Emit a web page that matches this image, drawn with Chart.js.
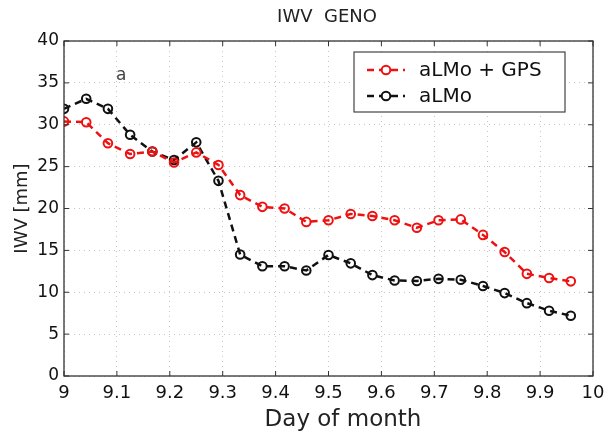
<!DOCTYPE html>
<html>
<head>
<meta charset="utf-8">
<script src="https://cdn.jsdelivr.net/npm/chart.js@4.4.1/dist/chart.umd.min.js"></script>
<style>
  html, body { margin: 0; padding: 0; background: #ffffff; }
  #wrap { width: 613px; height: 438px; }
</style>
</head>
<body>
<div id="wrap"><canvas id="c" width="613" height="438"></canvas></div>
<script>
// ---- data ----
const dayOfMonth = [9.000, 9.042, 9.083, 9.125, 9.167, 9.208, 9.250, 9.292,
                    9.333, 9.375, 9.417, 9.458, 9.500, 9.542, 9.583, 9.625,
                    9.667, 9.708, 9.750, 9.792, 9.833, 9.875, 9.917, 9.958];
const iwvGps  = [30.4, 30.3, 27.8, 26.5, 26.8, 25.5, 26.7, 25.2,
                 21.6, 20.2, 20.0, 18.4, 18.6, 19.35, 19.1, 18.6,
                 17.7, 18.6, 18.7, 16.85, 14.8, 12.2, 11.7, 11.3];
const iwvAlmo = [31.9, 33.1, 31.9, 28.8, 26.8, 25.8, 27.9, 23.3,
                 14.5, 13.1, 13.1, 12.6, 14.45, 13.45, 12.05, 11.4,
                 11.35, 11.6, 11.5, 10.75, 9.9, 8.7, 7.8, 7.2];
const seriesLabels = ['aLMo + GPS', 'aLMo'];
const chartTitle = 'IWV  GENO';
const xTitle = 'Day of month';
const yTitle = 'IWV [mm]';
const panelLabel = 'a';
const panelLabelAt = [9.108, 35.9];
const xTicks = [9, 9.1, 9.2, 9.3, 9.4, 9.5, 9.6, 9.7, 9.8, 9.9, 10];
const yTicks = [0, 5, 10, 15, 20, 25, 30, 35, 40];

const toPts = (xs, ys) => xs.map((x, i) => ({ x: x, y: ys[i] }));
const FONT = '"DejaVu Sans", "Liberation Sans", Arial, sans-serif';

const decor = {
  id: 'decor',
  afterDraw(chart) {
    const ctx = chart.ctx;
    const a = chart.chartArea;
    const xs = chart.scales.x, ys = chart.scales.y;
    ctx.save();
    // frame
    ctx.strokeStyle = '#333333';
    ctx.lineWidth = 1.3;
    ctx.strokeRect(a.left, a.top, a.right - a.left, a.bottom - a.top);
    // inward tick marks on all four sides
    ctx.lineWidth = 1;
    const tl = 5;
    xTicks.forEach(v => {
      const px = xs.getPixelForValue(v);
      ctx.beginPath();
      ctx.moveTo(px, a.bottom); ctx.lineTo(px, a.bottom - tl);
      ctx.moveTo(px, a.top); ctx.lineTo(px, a.top + tl);
      ctx.stroke();
    });
    yTicks.forEach(v => {
      const py = ys.getPixelForValue(v);
      ctx.beginPath();
      ctx.moveTo(a.left, py); ctx.lineTo(a.left + tl, py);
      ctx.moveTo(a.right, py); ctx.lineTo(a.right - tl, py);
      ctx.stroke();
    });
    // panel label
    ctx.fillStyle = '#444444';
    ctx.font = '17px ' + FONT;
    ctx.textAlign = 'center';
    ctx.textBaseline = 'middle';
    ctx.fillText(panelLabel, xs.getPixelForValue(panelLabelAt[0]), ys.getPixelForValue(panelLabelAt[1]));
    // title
    ctx.fillStyle = '#222222';
    ctx.font = '18px ' + FONT;
    ctx.fillText(chartTitle, 327, 17);
    // x title
    ctx.font = '23px ' + FONT;
    ctx.fillText(xTitle, 343, 420);
    // y title
    ctx.save();
    ctx.translate(22, (a.top + a.bottom) / 2);
    ctx.rotate(-Math.PI / 2);
    ctx.font = '18px ' + FONT;
    ctx.fillText(yTitle, 0, 0);
    ctx.restore();
    // legend
    const lx = 354, ly = 52, lw = 211, lh = 60;
    ctx.fillStyle = '#ffffff';
    ctx.fillRect(lx, ly, lw, lh);
    ctx.strokeStyle = '#444444';
    ctx.lineWidth = 1.2;
    ctx.strokeRect(lx, ly, lw, lh);
    chart.data.datasets.forEach((ds, i) => {
      const yy = ly + 18 + i * 26;
      ctx.strokeStyle = ds.borderColor;
      ctx.lineWidth = ds.borderWidth;
      ctx.setLineDash(ds.borderDash);
      ctx.beginPath();
      ctx.moveTo(367, yy); ctx.lineTo(405, yy);
      ctx.stroke();
      ctx.setLineDash([]);
      ctx.beginPath();
      ctx.fillStyle = '#ffffff';
      ctx.arc(386, yy, ds.pointRadius, 0, Math.PI * 2);
      ctx.fill();
      ctx.lineWidth = ds.pointBorderWidth;
      ctx.stroke();
      ctx.fillStyle = '#111111';
      ctx.font = '20px ' + FONT;
      ctx.textAlign = 'left';
      ctx.fillText(ds.label, 419, yy + 1);
      ctx.textAlign = 'center';
    });
    ctx.restore();
  }
};

new Chart(document.getElementById('c'), {
  type: 'line',
  data: {
    datasets: [
      {
        label: seriesLabels[0],
        data: toPts(dayOfMonth, iwvGps),
        borderColor: '#ee1111',
        backgroundColor: 'rgba(0,0,0,0)',
        borderWidth: 2.5,
        borderDash: [7, 5],
        pointRadius: 4.3,
        pointBorderWidth: 2,
        pointBackgroundColor: 'rgba(0,0,0,0)',
        pointBorderColor: '#ee1111',
        tension: 0
      },
      {
        label: seriesLabels[1],
        data: toPts(dayOfMonth, iwvAlmo),
        borderColor: '#111111',
        backgroundColor: 'rgba(0,0,0,0)',
        borderWidth: 2.5,
        borderDash: [7, 5],
        pointRadius: 4.3,
        pointBorderWidth: 2,
        pointBackgroundColor: 'rgba(0,0,0,0)',
        pointBorderColor: '#111111',
        tension: 0
      }
    ]
  },
  options: {
    responsive: false,
    animation: false,
    devicePixelRatio: 1,
    layout: { padding: { top: 41, right: 20, left: 0, bottom: 0 } },
    plugins: { legend: { display: false }, title: { display: false }, tooltip: { enabled: false } },
    scales: {
      x: {
        type: 'linear', min: 9, max: 10,
        afterFit(s) { s.height = 62; },
        afterBuildTicks(s) { s.ticks = xTicks.map(v => ({ value: v })); },
        ticks: {
          color: '#111111', padding: 7,
          font: { family: FONT, size: 18 },
          maxRotation: 0, autoSkip: false,
          callback: v => String(Number(v.toFixed(1)))
        },
        grid: { color: '#c4c4c4', lineWidth: 1, drawTicks: false },
        border: { display: false, dash: [1, 4] }
      },
      y: {
        type: 'linear', min: 0, max: 40,
        afterFit(s) { s.width = 64; },
        afterBuildTicks(s) { s.ticks = yTicks.map(v => ({ value: v })); },
        ticks: {
          color: '#111111', padding: 5,
          font: { family: FONT, size: 17 },
          autoSkip: false,
          callback: v => String(v)
        },
        grid: { color: '#c4c4c4', lineWidth: 1, drawTicks: false },
        border: { display: false, dash: [1, 4] }
      }
    }
  },
  plugins: [decor]
});
</script>
</body>
</html>
